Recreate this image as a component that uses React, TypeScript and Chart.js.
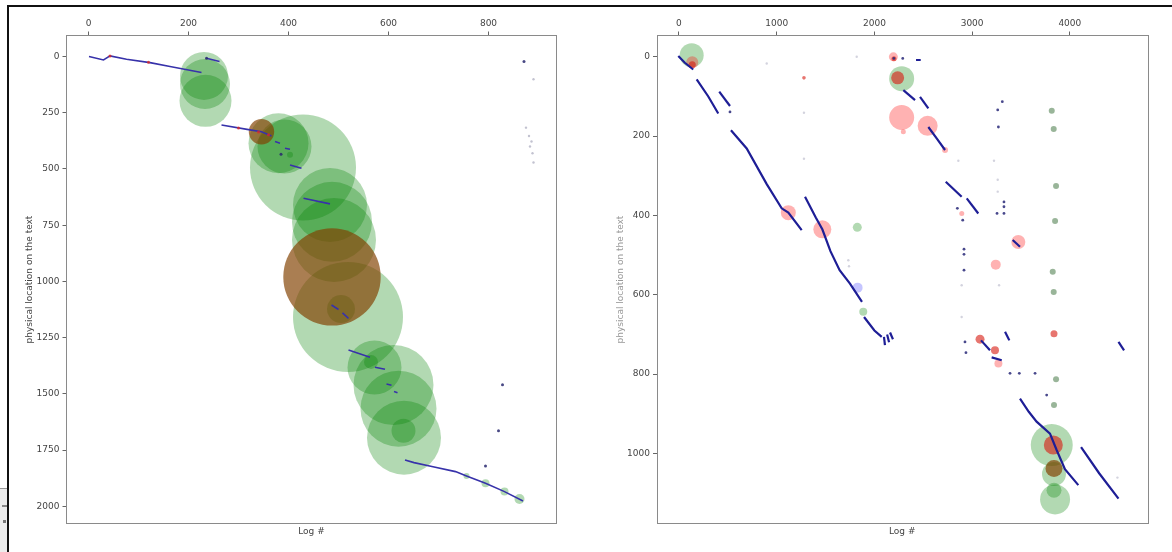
import React, { useEffect, useRef } from "react";
import { Chart, registerables } from "chart.js";

Chart.register(...registerables);

type Pt = [number, number];
type Bub = [number, number, number];

// ---------------- LEFT PANEL DATA ----------------
const leftXTicks = [0, 200, 400, 600, 800];
const leftYTicks = [0, 250, 500, 750, 1000, 1250, 1500, 1750, 2000];
const leftXRange: Pt = [-45, 937];
const leftYRange: Pt = [-96, 2079];

const leftBlueLines: Pt[][] = [
  [[1, 0], [30, 15], [43, -3], [76, 12], [123, 27], [163, 44], [226, 71]],
  [[236, 7], [262, 22]],
  [[266, 304], [323, 326], [346, 334], [366, 353]],
  [[373, 378], [383, 385]],
  [[393, 408], [403, 412]],
  [[403, 482], [426, 497]],
  [[430, 630], [483, 655]],
  [[486, 1105], [500, 1125]],
  [[508, 1140], [520, 1164]],
  [[520, 1305], [563, 1337]],
  [[573, 1382], [593, 1391]],
  [[596, 1456], [606, 1462]],
  [[611, 1490], [618, 1495]],
  [[633, 1794], [651, 1806], [689, 1824], [734, 1846], [756, 1865], [794, 1898], [832, 1935], [869, 1977]],
];

const leftGreenBubbles: Bub[] = [
  [231, 86, 24], [233, 122, 25], [234, 197, 26],
  [380, 385, 30], [392, 400, 27], [429, 493, 53],
  [483, 660, 37], [487, 735, 40], [491, 816, 42],
  [519, 1158, 55], [505, 1123, 14],
  [572, 1383, 27], [565, 1358, 7], [610, 1461, 40], [620, 1566, 38], [631, 1695, 37], [630, 1664, 12],
  [403, 437, 3], [756, 1865, 3], [794, 1898, 4], [832, 1935, 4], [862, 1968, 5],
];

const leftBrownBubbles: Bub[] = [
  [346, 334, 12.7], [487, 980, 48.7],
];

const leftRedDots: Pt[] = [
  [43, -3], [120, 25], [300, 318], [340, 335], [360, 348],
];

const leftDarkDots: Pt[] = [
  [385, 434], [794, 1821], [828, 1460], [820, 1664], [871, 22], [236, 7],
];

const leftFaintDots: Pt[] = [
  [890, 101], [875, 316], [881, 353], [886, 378], [883, 400], [888, 430], [890, 471],
];

// ---------------- RIGHT PANEL DATA ----------------
const rightXTicks = [0, 1000, 2000, 3000, 4000];
const rightYTicks = [0, 200, 400, 600, 800, 1000];
const rightXRange: Pt = [-230, 4800];
const rightYRange: Pt = [-55, 1178];

const rightBlueLines: Pt[][] = [
  [[-7, -2], [60, 15], [146, 32]],
  [[181, 57], [300, 100], [402, 143]],
  [[412, 88], [522, 124]],
  [[532, 185], [693, 231], [898, 321], [1051, 382], [1119, 393], [1256, 437]],
  [[1290, 353], [1400, 405], [1467, 435], [1550, 490], [1644, 538], [1750, 572], [1873, 618]],
  [[1894, 656], [2000, 690], [2075, 706]],
  [[2098, 706], [2108, 727]],
  [[2130, 700], [2150, 720]],
  [[2160, 695], [2190, 712]],
  [[2426, 8], [2474, 8]],
  [[2296, 84], [2416, 109]],
  [[2467, 101], [2552, 130]],
  [[2552, 177], [2641, 207], [2723, 235]],
  [[2730, 315], [2893, 353]],
  [[2945, 357], [3063, 395]],
  [[3415, 462], [3490, 479]],
  [[3091, 715], [3183, 740]],
  [[3200, 758], [3303, 765]],
  [[3337, 693], [3381, 715]],
  [[3490, 862], [3580, 895], [3660, 920], [3797, 950], [3866, 992], [3950, 1040], [4087, 1080]],
  [[4115, 984], [4300, 1050], [4498, 1114]],
  [[4498, 719], [4555, 740]],
];

const rightGreenBubbles: Bub[] = [
  [130, -4, 12], [2279, 55, 12.5], [1825, 430, 4.5], [1886, 643, 4],
  [3815, 979, 21], [3838, 1052, 12], [3838, 1093, 7.5], [3849, 1116, 15],
];

const rightGrayGreenDots: Pt[] = [
  [3815, 136], [3835, 182], [3859, 326], [3849, 414], [3825, 542], [3835, 593], [3859, 813], [3838, 878],
];

const rightPinkBubbles: Bub[] = [
  [136, 14, 6], [1119, 393, 7.5], [1467, 435, 9], [2194, 0, 4.5], [2279, 153, 12.5],
  [2545, 174, 10], [3473, 467, 7], [3242, 524, 5], [3269, 773, 4], [2894, 395, 2.5],
  [2723, 235, 3], [2296, 189, 2.5],
];

const rightRedBubbles: Bub[] = [
  [136, 20, 3.5], [2238, 53, 6.5], [3831, 979, 9.5], [3081, 712, 4.5], [3234, 740, 4],
  [3838, 698, 3.5], [2200, 5, 2.5], [1279, 53, 1.8],
];

const rightBrownBubbles: Bub[] = [
  [3838, 1038, 8.5],
];

const rightBlueBubbles: Bub[] = [
  [1828, 582, 5],
];

const rightDarkDots: Pt[] = [
  [522, 139], [3309, 113], [3262, 134], [3269, 177], [3326, 366], [3326, 378], [3326, 395],
  [3255, 395], [2917, 485], [2917, 498], [2917, 538], [2937, 746], [2927, 719], [3388, 798],
  [3483, 798], [3644, 798], [3763, 853], [2290, 4], [2849, 382], [2904, 412], [2199, 4],
];

const rightFaintDots: Pt[] = [
  [898, 17], [1279, 141], [1279, 257], [1819, 0], [1733, 513], [1740, 528], [2859, 262],
  [3224, 262], [2893, 576], [3276, 576], [2893, 656], [4487, 1061], [3262, 310], [3262, 340],
];

// ---------------- STYLE ----------------
const FONT = { family: "'DejaVu Sans', sans-serif", size: 9 };
const TEXT = "#444";
const GREEN = "rgba(0,128,0,0.3)";
const BROWN = "rgba(130,65,0,0.68)";
const PINK = "rgba(255,0,0,0.3)";
const RED = "rgba(215,25,15,0.6)";

const framePlugin = {
  id: "frame",
  afterDraw(chart: any) {
    const { ctx, chartArea: a } = chart;
    ctx.save();
    ctx.strokeStyle = "#8a8a8a";
    ctx.lineWidth = 1;
    ctx.strokeRect(Math.round(a.left) + 0.5, Math.round(a.top) + 0.5, Math.round(a.right - a.left) - 1, Math.round(a.bottom - a.top) - 1);
    ctx.restore();
  },
};

interface Panel {
  xTicks: number[];
  yTicks: number[];
  xRange: Pt;
  yRange: Pt;
  lines: Pt[][];
  lineColor: string;
  lineWidth: number;
  bubbles: { data: Bub[]; color: string; order: number }[];
  dots: { data: Pt[]; color: string; r: number }[];
  yTitleColor: string;
}

interface Geo {
  width: number;
  yAxisWidth: number;
  padRight: number;
  yTitlePad: number;
}

function makeConfig(p: Panel, g: Geo): any {
  const datasets: any[] = [];
  p.bubbles.forEach((b) =>
    datasets.push({
      type: "bubble",
      data: b.data.map(([x, y, r]) => ({ x, y, r })),
      backgroundColor: b.color,
      borderWidth: 0,
      order: b.order,
    })
  );
  p.lines.forEach((line) =>
    datasets.push({
      type: "scatter",
      data: line.map(([x, y]) => ({ x, y })),
      showLine: true,
      borderColor: p.lineColor,
      borderWidth: p.lineWidth,
      pointRadius: 0,
      fill: false,
      order: 2,
    })
  );
  p.dots.forEach((d) =>
    datasets.push({
      type: "scatter",
      data: d.data.map(([x, y]) => ({ x, y })),
      backgroundColor: d.color,
      borderWidth: 0,
      pointRadius: d.r,
      order: 1,
    })
  );

  return {
    type: "scatter",
    data: { datasets },
    plugins: [framePlugin],
    options: {
      animation: false,
      responsive: false,
      events: [],
      layout: { autoPadding: false, padding: { left: 0, top: 0, right: g.padRight, bottom: 0 } },
      plugins: { legend: { display: false }, tooltip: { enabled: false }, title: { display: false } },
      scales: {
        x: {
          type: "linear",
          position: "top",
          min: p.xRange[0],
          max: p.xRange[1],
          afterBuildTicks: (s: any) => {
            s.ticks = p.xTicks.map((v) => ({ value: v }));
          },
          afterFit: (s: any) => {
            s.height = 35;
          },
          ticks: { font: FONT, color: TEXT, padding: 2.5, maxRotation: 0, callback: (v: any) => String(v) },
          grid: { drawOnChartArea: false, drawTicks: true, tickLength: 3.5, color: "#666" },
          border: { display: false },
        },
        x2: {
          type: "linear",
          position: "bottom",
          afterFit: (s: any) => {
            s.height = 28;
          },
          ticks: { display: false },
          grid: { display: false },
          border: { display: false },
          title: { display: true, text: "Log #", font: FONT, color: TEXT, padding: { top: 0, bottom: 14.6 } },
        },
        y: {
          type: "linear",
          position: "left",
          reverse: true,
          min: p.yRange[0],
          max: p.yRange[1],
          afterBuildTicks: (s: any) => {
            s.ticks = p.yTicks.map((v) => ({ value: v }));
          },
          afterFit: (s: any) => {
            s.width = g.yAxisWidth;
          },
          ticks: { font: FONT, color: TEXT, padding: 3, callback: (v: any) => String(v) },
          grid: { drawOnChartArea: false, drawTicks: true, tickLength: 3.5, color: "#666" },
          border: { display: false },
          title: {
            display: true,
            text: "physical location on the text",
            font: FONT,
            color: p.yTitleColor,
            padding: { top: g.yTitlePad, bottom: 0 },
          },
        },
      },
    },
  };
}

const leftPanel: Panel = {
  xTicks: leftXTicks,
  yTicks: leftYTicks,
  xRange: leftXRange,
  yRange: leftYRange,
  lines: leftBlueLines,
  lineColor: "rgb(55,50,170)",
  lineWidth: 1.6,
  bubbles: [
    { data: leftGreenBubbles, color: GREEN, order: 6 },
    { data: leftBrownBubbles, color: BROWN, order: 5 },
  ],
  dots: [
    { data: leftRedDots, color: "rgba(220,40,40,0.8)", r: 1.5 },
    { data: leftDarkDots, color: "rgba(40,40,110,0.85)", r: 1.5 },
    { data: leftFaintDots, color: "rgba(120,120,150,0.45)", r: 1.2 },
  ],
  yTitleColor: TEXT,
};

const rightPanel: Panel = {
  xTicks: rightXTicks,
  yTicks: rightYTicks,
  xRange: rightXRange,
  yRange: rightYRange,
  lines: rightBlueLines,
  lineColor: "rgb(30,30,150)",
  lineWidth: 2.2,
  bubbles: [
    { data: rightGreenBubbles, color: GREEN, order: 7 },
    { data: rightPinkBubbles, color: PINK, order: 6 },
    { data: rightBlueBubbles, color: "rgba(90,90,255,0.35)", order: 6 },
    { data: rightBrownBubbles, color: BROWN, order: 5 },
    { data: rightRedBubbles, color: RED, order: 5 },
  ],
  dots: [
    { data: rightGrayGreenDots, color: "rgba(70,120,70,0.55)", r: 3 },
    { data: rightDarkDots, color: "rgba(40,40,120,0.85)", r: 1.4 },
    { data: rightFaintDots, color: "rgba(130,130,160,0.35)", r: 1.2 },
  ],
  yTitleColor: "#999",
};

const leftGeo: Geo = { width: 600, yAxisWidth: 66, padRight: 43, yTitlePad: 24.6 };
const rightGeo: Geo = { width: 572, yAxisWidth: 56.5, padRight: 24, yTitlePad: 15.6 };

function Panel({ panel, geo, left }: { panel: Panel; geo: Geo; left: number }) {
  const ref = useRef<HTMLCanvasElement | null>(null);
  useEffect(() => {
    if (!ref.current) return;
    const chart = new Chart(ref.current, makeConfig(panel, geo));
    return () => chart.destroy();
  }, []);
  return (
    <canvas
      ref={ref}
      width={geo.width}
      height={552}
      style={{ position: "absolute", left, top: 0, width: geo.width, height: 552 }}
    />
  );
}

export default function App() {
  return (
    <div
      style={{
        position: "fixed",
        left: 0,
        top: 0,
        width: 1172,
        height: 552,
        background: "#fff",
        overflow: "hidden",
      }}
    >
      <Panel panel={leftPanel} geo={leftGeo} left={0} />
      <Panel panel={rightPanel} geo={rightGeo} left={600} />
      <div style={{ position: "absolute", left: 8, top: 5, width: 1164, height: 2, background: "#111" }} />
      <div style={{ position: "absolute", left: 7, top: 5, width: 2, height: 547, background: "#111" }} />
      <div style={{ position: "absolute", left: 0, top: 488, width: 7, height: 64, background: "#ececec" }} />
      <div style={{ position: "absolute", left: 0, top: 488, width: 7, height: 1, background: "#999" }} />
      <div style={{ position: "absolute", left: 2, top: 505, width: 5, height: 2, background: "#888" }} />
      <div style={{ position: "absolute", left: 3, top: 520, width: 3, height: 3, background: "#777" }} />
    </div>
  );
}
